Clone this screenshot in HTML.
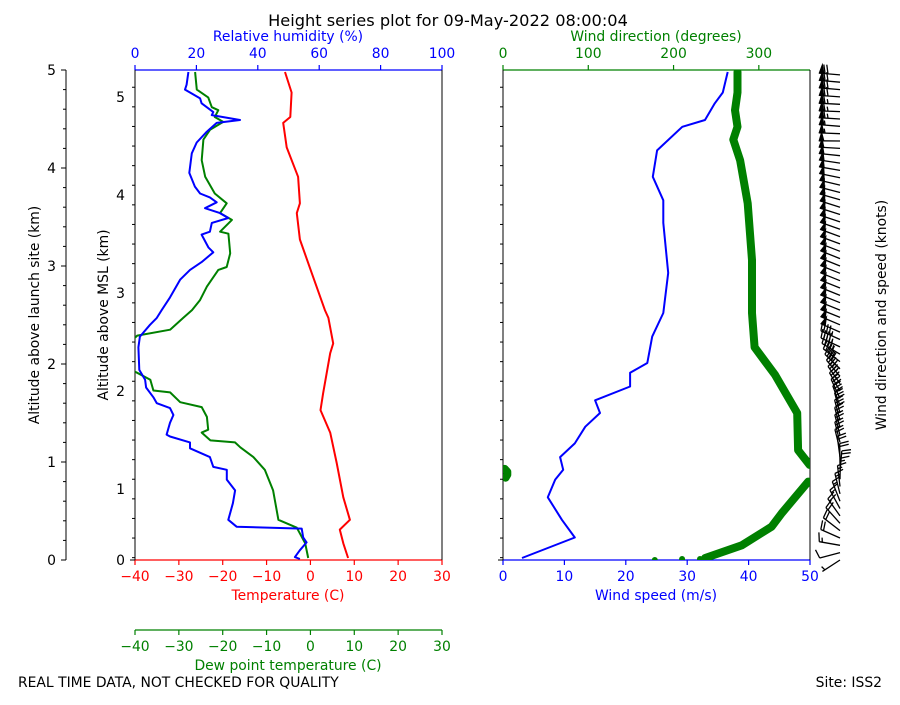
<!DOCTYPE html>
<html><head><meta charset="utf-8"><title>Height series plot</title>
<style>
body{margin:0;background:#fff;}
svg text{font-family:"DejaVu Sans","Liberation Sans",sans-serif;font-size:13.9px;}
</style></head>
<body>
<svg id="chart" width="900" height="700" viewBox="0 0 900 700" xmlns="http://www.w3.org/2000/svg">
<defs>
<clipPath id="clipL"><rect x="135" y="70" width="307" height="490"/></clipPath>
<clipPath id="clipR"><rect x="503" y="70" width="307" height="490"/></clipPath>
</defs>
<rect x="0" y="0" width="900" height="700" fill="#fff"/>
<text x="448" y="26" text-anchor="middle" style="font-size:16.2px">Height series plot for 09-May-2022 08:00:04</text>
<g id="axes"></g>
<g id="series"></g>
<text x="18" y="687">REAL TIME DATA, NOT CHECKED FOR QUALITY</text>
<text x="882" y="687" text-anchor="end">Site: ISS2</text>
</svg>
<script>
// ---- data (altitude above launch site, km) ----
const tempAlt = [4.98,4.77,4.52,4.46,4.21,3.91,3.64,3.54,3.27,2.93,2.55,2.47,2.21,2.11,1.70,1.53,1.30,0.99,0.64,0.41,0.31,0.17,0.02];
const tempVal = [-5.8,-4.3,-4.6,-6.2,-5.4,-2.8,-2.4,-3.1,-2.4,0.3,3.3,4.1,5.2,4.5,2.9,2.3,4.5,6.0,7.5,9.0,6.7,7.5,8.6];
const dewAlt = [4.98,4.80,4.72,4.62,4.59,4.52,4.47,4.39,4.29,4.08,3.91,3.74,3.64,3.54,3.47,3.35,3.33,3.13,2.99,2.96,2.79,2.65,2.55,2.47,2.35,2.29,2.14,1.99,1.91,1.84,1.73,1.71,1.61,1.56,1.46,1.33,1.30,1.22,1.20,1.15,1.05,0.92,0.71,0.41,0.33,0.17,0.02];
const dewVal = [-26.3,-25.9,-23.3,-22.5,-21,-21.8,-19.9,-22.9,-24.4,-24.8,-24,-21.8,-19.1,-20.6,-17.9,-20.6,-18.7,-18.3,-19.1,-21,-23.6,-25.2,-27,-29,-32,-39.5,-43,-43,-39.5,-36.5,-35.8,-32,-29.7,-24.8,-23.6,-23.3,-24.8,-22.8,-17.2,-16,-13,-10.4,-8.5,-7.3,-3.1,-1.2,-0.5];
const rhAlt = [4.98,4.85,4.80,4.77,4.71,4.66,4.57,4.54,4.49,4.46,4.37,4.26,4.15,3.95,3.81,3.74,3.70,3.65,3.59,3.54,3.49,3.44,3.35,3.32,3.19,3.14,3.04,2.96,2.86,2.68,2.55,2.47,2.40,2.28,2.17,1.94,1.84,1.76,1.66,1.60,1.55,1.48,1.40,1.28,1.26,1.20,1.14,1.05,0.95,0.92,0.82,0.71,0.58,0.41,0.34,0.32,0.23,0.18,0.10,0.03,0.01];
const rhVal = [17.4,16.8,16.3,17.9,21.2,21.7,25.5,25,34.2,26.6,23.4,20.1,18.5,17.7,19.5,21.2,24.4,26.6,22.8,27.7,30.4,25,24.4,21.7,23.9,25.5,21.7,17.9,14.7,11.4,8.7,7.1,4.9,1.6,1.1,1.4,3.3,3.6,6,7.1,11.4,12.5,11.4,10.3,11.4,17.9,17.9,24.4,25.5,29.9,29.9,32.6,31.9,30.4,33.1,54.3,54.8,55.9,53.7,52.1,53.7];
const spdAlt = [0.02,0.23,0.41,0.64,0.82,0.92,1.05,1.19,1.36,1.50,1.63,1.77,1.91,2.01,2.28,2.52,2.93,3.44,3.67,3.91,4.18,4.42,4.49,4.66,4.77,4.98];
const spdVal = [3.1,11.7,9.6,7.3,8.5,9.8,9.3,11.7,13.4,15.8,15,20.7,20.7,23.5,24.3,26.1,26.9,26.1,26.1,24.4,25.1,29.2,32.9,34.5,35.8,36.6];
const dirAlt = [0.02,0.15,0.34,0.48,0.80,0.84,0.87,0.90,0.93,0.97,1.12,1.50,1.89,2.17,2.52,3.06,3.64,4.08,4.29,4.42,4.59,4.77,4.98];
const dirVal = [237,280,315,327,358,3,5,5,2,359.5,346,345,319,295,292,292,287,278,270,275,272,275,275];
const dirDotAlt = [0.0,0.01,0.01];
const dirDotVal = [178,210,231];
const tempTicks = [-40,-30,-20,-10,0,10,20,30];
const rhTicks = [0,20,40,60,80,100];
const spdTicks = [0,10,20,30,40,50];
const dirTicks = [0,100,200,300];
const siteTicks = [0,1,2,3,4,5];
const mslTicks = [0,1,2,3,4,5];

// ---- scales ----
const NS='http://www.w3.org/2000/svg';
const tx = t => 135 + (t + 40) * 307 / 70;
const rx = r => 135 + r * 3.07;
const sx = s => 503 + s * 6.14;
const dx = d => 503 + d * 307 / 360;
const yL = h => 560 - h * 98;
const MSL_OFF = 0.276;
const yM = m => m === 0 ? 560 : 560 - (m - MSL_OFF) * 98;

const axes = document.getElementById('axes');
const series = document.getElementById('series');
function mk(tag, attrs, parent, txt){
  const e = document.createElementNS(NS, tag);
  for (const k in attrs) e.setAttribute(k, attrs[k]);
  if (txt !== undefined) e.textContent = txt;
  (parent || axes).appendChild(e);
  return e;
}
function line(x1,y1,x2,y2,c,w,name){
  const e = mk('line',{x1,y1,x2,y2,stroke:c,'stroke-width':w||1});
  
  
  return e;
}
function text(x,y,s,c,anchor,name,rot){
  const a = {x,y,fill:c,'text-anchor':anchor||'middle'};
  if (rot) a.transform = 'rotate(-90 '+x+' '+y+')';
  const e = mk('text',a,axes,s);
  
  
  return e;
}

// ---- spines ----
line(135,70,442,70,'#0000ff',1.2,'rh-axis-spine');
line(135,560,442,560,'#ff0000',1.2,'temperature-axis-spine');
line(135,70,135,560,'#000',1,'msl-axis-spine');
line(442,70,442,560,'#000',1,'left-panel-right-spine');
line(66,70,66,560,'#000',1,'launch-site-axis-spine');
line(135,630,442,630,'#008000',1.2,'dewpoint-axis-spine');
line(503,70,810,70,'#008000',1.2,'wind-direction-axis-spine');
line(503,560,810,560,'#0000ff',1.2,'wind-speed-axis-spine');
line(503,70,503,560,'#000',1,'right-panel-left-spine');
line(810,70,810,560,'#000',1,'right-panel-right-spine');

// ---- ticks ----
tempTicks.forEach(t=>{ line(tx(t),560,tx(t),565,'#ff0000',1.2,'temperature-tick'); text(tx(t),581,t.toString().replace('-','\u2212'),'#ff0000','middle','temperature-tick-label'); });
tempTicks.forEach(t=>{ line(tx(t),630,tx(t),635,'#008000',1.2,'dewpoint-tick'); text(tx(t),651,t.toString().replace('-','\u2212'),'#008000','middle','dewpoint-tick-label'); });
rhTicks.forEach(r=>{ line(rx(r),65,rx(r),70,'#0000ff',1.2,'rh-tick'); text(rx(r),58,String(r),'#0000ff','middle','rh-tick-label'); });
spdTicks.forEach(s=>{ line(sx(s),560,sx(s),565,'#0000ff',1.2,'wind-speed-tick'); text(sx(s),581,String(s),'#0000ff','middle','wind-speed-tick-label'); });
dirTicks.forEach(d=>{ line(dx(d),65,dx(d),70,'#008000',1.2,'wind-direction-tick'); text(dx(d),58,String(d),'#008000','middle','wind-direction-tick-label'); });
for (let h=0; h<=5.001; h+=0.2){
  const major = Math.abs(h-Math.round(h))<0.01;
  line(66-(major?5:3),yL(h),66,yL(h),'#000',1,major?'launch-site-major-tick':'launch-site-minor-tick');
}
siteTicks.forEach(h=>text(56,yL(h)+5,String(h),'#000','end','launch-site-tick-label'));
for (let m=MSL_OFF+0.024; m<=5.3; m+=0.2){
  const major = Math.abs(m-Math.round(m))<0.01;
  line(135-(major?5:3),yM(m),135,yM(m),'#000',1,'msl-tick');
  line(503-(major?5:3),yM(m),503,yM(m),'#000',1,'right-panel-tick');
}
line(130,560,135,560,'#000',1,'msl-tick');
line(498,560,503,560,'#000',1,'right-panel-tick');
mslTicks.forEach(m=>text(125,yM(m)+5,String(m),'#000','end','msl-tick-label'));

// ---- axis titles ----
text(288,41,'Relative humidity (%)','#0000ff','middle','rh-axis-title');
text(288,600,'Temperature (C)','#ff0000','middle','temperature-axis-title');
text(288,670,'Dew point temperature (C)','#008000','middle','dewpoint-axis-title');
text(656,41,'Wind direction (degrees)','#008000','middle','wind-direction-axis-title');
text(656,600,'Wind speed (m/s)','#0000ff','middle','wind-speed-axis-title');
text(39,315,'Altitude above launch site (km)','#000','middle','launch-site-axis-title',true);
text(108,315,'Altitude above MSL (km)','#000','middle','msl-axis-title',true);
text(886,315,'Wind direction and speed (knots)','#000','middle','barb-axis-title',true);

// ---- series ----
function pathFrom(xs, alts, xf){
  return xs.map((v,i)=>(i?'L':'M')+xf(v).toFixed(1)+','+yL(alts[i]).toFixed(1)).join('');
}
const gL = mk('g',{'clip-path':'url(#clipL)'},series);
const pT = mk('path',{d:pathFrom(tempVal,tempAlt,tx),fill:'none',stroke:'#ff0000','stroke-width':2,'stroke-linejoin':'round'},gL);


const pD = mk('path',{d:pathFrom(dewVal,dewAlt,tx),fill:'none',stroke:'#008000','stroke-width':2,'stroke-linejoin':'round'},gL);


const pR = mk('path',{d:pathFrom(rhVal,rhAlt,rx),fill:'none',stroke:'#0000ff','stroke-width':2,'stroke-linejoin':'round'},gL);



const gR = mk('g',{'clip-path':'url(#clipR)'},series);
const pS = mk('path',{d:pathFrom(spdVal,spdAlt,sx),fill:'none',stroke:'#0000ff','stroke-width':2,'stroke-linejoin':'round'},gR);


let seg = '';
dirVal.forEach((d,i)=>{
  const brk = i===0 || Math.abs(d-dirVal[i-1])>180;
  seg += (brk?'M':'L')+dx(d).toFixed(1)+','+yL(dirAlt[i]).toFixed(1);
});
const pW = mk('path',{d:seg,fill:'none',stroke:'#008000','stroke-width':8,'stroke-linejoin':'round','stroke-linecap':'round'},gR);


dirDotVal.forEach((d,i)=>{
  const c = mk('circle',{cx:dx(d),cy:yL(dirDotAlt[i]),r:3,fill:'#008000'},gR);
  
  
});

// ---- wind barbs ----
function interp(alts, vals, h, unwrap){
  const idx = alts.map((a,i)=>i).sort((a,b)=>alts[a]-alts[b]);
  const A = idx.map(i=>alts[i]); let V = idx.map(i=>vals[i]);
  if (unwrap){ for(let i=1;i<V.length;i++){ while(V[i]-V[i-1]>180) V[i]-=360; while(V[i]-V[i-1]<-180) V[i]+=360; } }
  if (h<=A[0]) return V[0];
  for (let i=1;i<A.length;i++) if (h<=A[i]){ const f=(h-A[i-1])/(A[i]-A[i-1]); return V[i-1]+f*(V[i]-V[i-1]); }
  return V[V.length-1];
}
const gB = mk('g',{},series);


const L = 21, H = 9;
for (let h=0; h<=5.02; h+=0.075){
  const spd = interp(spdAlt,spdVal,h,false);
  const dir = interp(dirAlt,dirVal,h,true)*Math.PI/180;
  const px = 840, py = yL(h);
  const ux = Math.sin(dir), uy = -Math.cos(dir);
  const qx = -uy, qy = ux;
  const tipx = px+L*ux, tipy = py+L*uy;
  let d = 'M'+px.toFixed(1)+','+py.toFixed(1)+'L'+tipx.toFixed(1)+','+tipy.toFixed(1);
  let kt = Math.round(spd*1.944/5)*5;
  let pos = 0; let polys = '';
  while (kt>=50){
    const bx=tipx-ux*pos, by=tipy-uy*pos;
    const ex=tipx-ux*(pos+5), ey=tipy-uy*(pos+5);
    const ax=(bx+ex)/2+qx*H, ay=(by+ey)/2+qy*H;
    polys += 'M'+bx.toFixed(1)+','+by.toFixed(1)+'L'+ax.toFixed(1)+','+ay.toFixed(1)+'L'+ex.toFixed(1)+','+ey.toFixed(1)+'Z';
    pos += 6; kt -= 50;
  }
  while (kt>=10){
    const bx=tipx-ux*pos, by=tipy-uy*pos;
    d += 'M'+bx.toFixed(1)+','+by.toFixed(1)+'L'+(bx+qx*H+ux*2).toFixed(1)+','+(by+qy*H+uy*2).toFixed(1);
    pos += 3; kt -= 10;
  }
  if (kt>=5){
    if (pos===0) pos = 3;
    const bx=tipx-ux*pos, by=tipy-uy*pos;
    d += 'M'+bx.toFixed(1)+','+by.toFixed(1)+'L'+(bx+qx*H/2+ux).toFixed(1)+','+(by+qy*H/2+uy).toFixed(1);
  }
  const b = mk('path',{d:d,fill:'none',stroke:'#000','stroke-width':1.3},gB);
  
  
  if (polys){
    const f = mk('path',{d:polys,fill:'#000',stroke:'#000','stroke-width':0.8},gB);
    
    
  }
}
</script>
</body></html>
